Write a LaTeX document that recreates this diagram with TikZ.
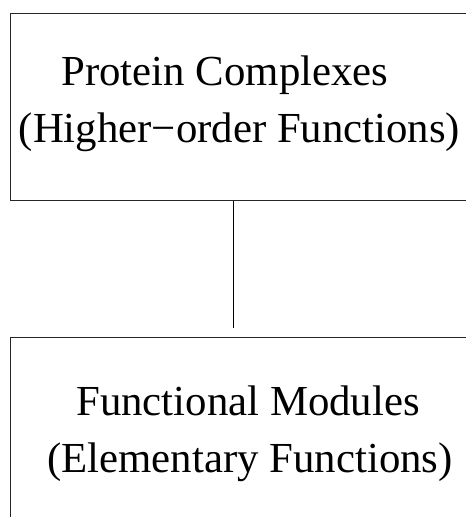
\documentclass[tikz,border=0pt]{standalone}
\usepackage{fontspec}
\setmainfont{Liberation Serif}
\tikzset{
  boxline/.style={draw=black!85, line width=1.3pt},
  lbl/.style={anchor=base, inner sep=0pt, font=\fontsize{42.8}{57}\selectfont},
  conn/.style={draw=black, line width=1.3pt}
}
\begin{document}
\begin{tikzpicture}[x=1pt,y=-1pt]
\useasboundingbox (0,0) rectangle (466,517);
\clip (0,0) rectangle (466,517);
\fill[white] (0,0) rectangle (466,517);
% boxes (extend past the right / bottom edge, as in the reference)
\node[boxline, anchor=north west, minimum width=470pt, minimum height=187.5pt, inner sep=0pt] (top) at (10,12.5) {};
\node[boxline, anchor=north west, minimum width=470pt, minimum height=200pt, inner sep=0pt] (bottom) at (10,336.5) {};
% labels
\node[lbl] (t1) at (225,85) {Protein Complexes};
\node[lbl] (t2) at (239.5,142) {(Higher−order Functions)};
\node[lbl] (b1) at (248,415) {Functional Modules};
\node[lbl] (b2) at (250,472) {(Elementary Functions)};
% connector
\coordinate (cx) at (233.3,0);
\coordinate (cend) at (233.3,327.5);
\draw[conn] (top.south -| cx) -- (cend);
\end{tikzpicture}
\end{document}
